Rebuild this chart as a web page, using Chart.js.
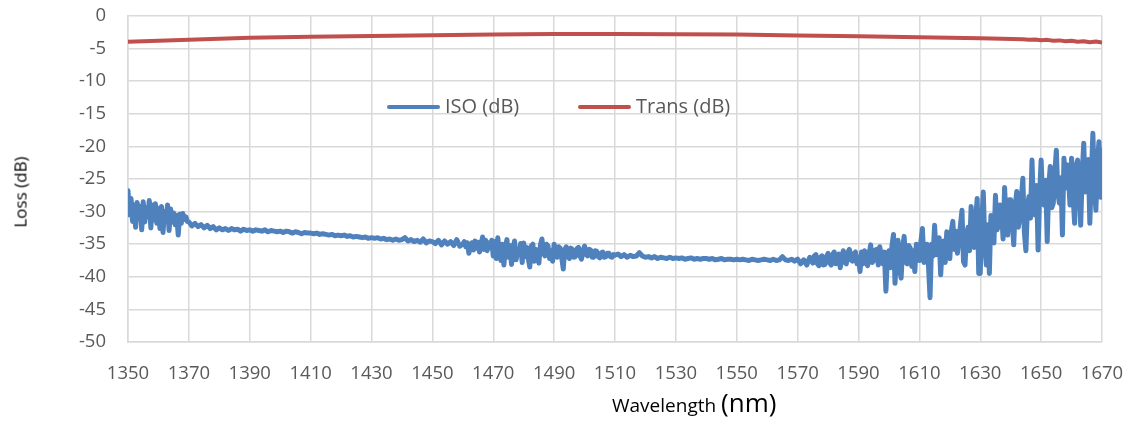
<!DOCTYPE html>
<html>
<head>
<meta charset="utf-8">
<script src="https://cdn.jsdelivr.net/npm/chart.js@4"></script>
<style>
  html, body { margin: 0; padding: 0; background: #fff; }
  #wrap { position: relative; width: 1131px; height: 424px; font-family: "Open Sans", sans-serif; }
  #chart { position: absolute; left: 0; top: 0; }
  .leg { position: absolute; top: 92px; font-size: 20px; color: #595959; white-space: nowrap; }
  .leg i { display: inline-block; width: 53px; height: 4px; border-radius: 2px; vertical-align: middle; margin-right: 5px; position: relative; top: -1px; }
  #xtitle { position: absolute; left: 612px; top: 384px; color: #000; white-space: nowrap; }
  #xtitle .a { font-size: 19px; }
  #xtitle .b { font-size: 26px; }
  #ytitle { position: absolute; left: 20px; top: 192px; font-size: 17px; color: #000; white-space: nowrap;
            transform: translate(-50%, -50%) rotate(-90deg); }
</style>
</head>
<body>
<div id="wrap">
  <canvas id="chart" width="1131" height="424"></canvas>
  <div class="leg" style="left:387px"><i style="background:#4F81BD"></i>ISO (dB)</div>
  <div class="leg" style="left:578px"><i style="background:#C0504D"></i>Trans (dB)</div>
  <div id="xtitle"><span class="a">Wavelength </span><span class="b">(nm)</span></div>
  <div id="ytitle">Loss (dB)</div>
</div>
<script>
// 軸の目盛り
const xTicks = [1350, 1370, 1390, 1410, 1430, 1450, 1470, 1490, 1510, 1530, 1550, 1570, 1590, 1610, 1630, 1650, 1670];
const yTicks = [0, -5, -10, -15, -20, -25, -30, -35, -40, -45, -50];

// ISO (dB) — 区間ごとに読み取り (ノイズの多い区間は 0.5 nm ごと)
// 1350–1370 nm, 0.5 nm
const iso1350 = [
  -26.8,-30.5,-28.0,-31.5,-29.0,-32.4,-28.6,-31.0,-29.2,-32.8,
  -28.5,-31.6,-29.4,-30.8,-28.3,-32.5,-29.0,-31.3,-28.8,-31.8,
  -29.5,-32.6,-29.2,-33.2,-30.0,-31.4,-29.0,-32.9,-29.6,-31.6,
  -30.2,-32.0,-30.6,-33.6,-30.4,-31.8,-30.3,-31.2,-30.8,-31.5,
  -31.6
];
// 1371–1459 nm, 1 nm
const iso1371 = [
  -32.2,-31.8,-32.3,-32.0,-32.5,-32.1,-32.6,-32.3,-32.8,
  -32.5,-32.8,-32.6,-32.9,-32.6,-32.8,-32.7,-33.0,-32.7,-32.9,
  -32.8,-33.0,-32.8,-32.9,-33.0,-32.8,-33.1,-32.9,-33.0,-33.1,
  -33.0,-33.2,-33.0,-33.1,-33.3,-33.1,-33.2,-33.4,-33.2,-33.3,
  -33.3,-33.4,-33.3,-33.5,-33.4,-33.5,-33.6,-33.5,-33.7,-33.6,
  -33.7,-33.6,-33.8,-33.7,-33.9,-33.8,-33.9,-34.0,-33.9,-34.1,
  -34.0,-34.1,-34.0,-34.2,-34.1,-34.3,-34.2,-34.4,-34.2,-34.4,
  -34.3,-34.0,-34.5,-34.3,-34.6,-34.4,-34.7,-34.2,-34.8,-34.5,
  -34.6,-34.9,-34.4,-35.1,-34.5,-35.0,-34.6,-35.2,-34.3,-35.3
];
// 1460–1510 nm, 0.5 nm
const iso1460 = [
  -35.0,-34.6,-35.4,-34.8,-36.4,-35.2,-34.8,-35.9,-34.5,-35.6,
  -34.7,-36.2,-35.0,-33.9,-35.8,-34.4,-36.0,-34.8,-35.5,-34.4,
  -36.8,-34.6,-37.2,-34.0,-36.5,-37.5,-35.0,-38.2,-35.4,-34.3,
  -37.0,-35.2,-38.1,-35.6,-34.5,-37.4,-36.0,-36.5,-34.9,-37.8,
  -34.8,-36.9,-35.5,-37.2,-38.5,-35.3,-35.0,-37.6,-35.8,-36.6,
  -37.9,-35.1,-34.2,-36.4,-36.8,-35.0,-35.3,-37.2,-36.0,-37.6,
  -35.0,-36.6,-37.0,-35.4,-35.6,-37.1,-38.8,-35.8,-35.4,-36.9,
  -37.2,-35.6,-35.8,-37.0,-36.9,-35.7,-35.5,-36.8,-37.3,-35.9,
  -35.3,-36.6,-36.8,-35.8,-35.9,-37.0,-37.0,-36.0,-36.1,-36.9,
  -37.1,-36.3,-36.2,-37.0,-36.9,-36.4,-36.4,-36.9,-37.0,-36.6,
  -36.7
];
// 1511–1574 nm, 1 nm
const iso1511 = [
  -36.5,-36.9,-36.6,-37.0,-36.7,-36.9,-36.8,-36.3,-36.8,
  -37.0,-36.9,-37.1,-36.9,-37.2,-37.0,-37.1,-37.2,-37.0,-37.2,
  -37.1,-37.2,-37.1,-37.3,-37.2,-37.1,-37.3,-37.2,-37.3,-37.2,
  -37.2,-37.3,-37.2,-37.4,-37.3,-37.2,-37.4,-37.3,-37.3,-37.4,
  -37.3,-37.4,-37.3,-37.4,-37.5,-37.3,-37.4,-37.5,-37.4,-37.3,
  -37.4,-37.5,-37.3,-37.5,-37.4,-36.9,-37.4,-37.5,-37.3,-37.6,
  -37.3,-38.0,-37.4,-38.2,-37.0
];
// 1575–1670 nm, 0.5 nm
const iso1575 = [
  -37.9,-36.8,-36.6,-38.0,-38.3,-37.0,-36.8,-38.2,-38.1,-36.9,
  -36.4,-37.8,-38.2,-36.6,-36.2,-38.0,-37.9,-36.5,-38.6,-37.2,
  -36.0,-37.8,-38.0,-36.3,-35.8,-37.4,-37.6,-36.4,-36.2,-38.0,
  -37.0,-39.2,-36.2,-38.0,-36.0,-37.6,-38.3,-36.4,-35.1,-37.8,
  -37.5,-35.9,-35.8,-38.2,-35.4,-36.8,-38.0,-36.2,-42.2,-37.0,
  -36.0,-38.6,-35.2,-33.5,-41.0,-36.4,-34.4,-38.8,-40.2,-35.6,
  -33.8,-37.8,-38.0,-35.2,-35.6,-38.4,-36.0,-39.2,-35.0,-37.4,
  -37.5,-34.6,-32.6,-37.8,-36.5,-35.0,-38.4,-43.2,-35.0,-36.8,
  -32.1,-36.6,-35.6,-34.0,-39.7,-35.6,-34.5,-37.8,-33.1,-36.4,
  -37.2,-33.0,-31.5,-35.8,-33.0,-36.4,-34.4,-32.0,-29.8,-37.7,
  -38.2,-33.6,-32.4,-36.0,-29.2,-34.8,-35.5,-31.0,-28.0,-39.5,
  -39.5,-31.5,-27.0,-35.0,-38.2,-32.0,-39.5,-30.6,-31.0,-34.8,
  -27.5,-32.8,-32.1,-29.0,-30.0,-34.2,-26.3,-31.5,-33.6,-28.2,
  -28.2,-31.6,-35.1,-29.0,-26.9,-32.4,-31.0,-28.0,-24.9,-33.2,
  -36.0,-29.4,-27.7,-31.0,-22.1,-29.6,-30.5,-26.0,-35.9,-27.4,
  -22.1,-28.0,-29.0,-25.2,-34.6,-26.0,-23.1,-29.4,-28.7,-24.0,
  -20.6,-27.2,-28.7,-24.8,-33.6,-21.8,-26.4,-22.8,-25.0,-29.0,
  -21.8,-27.6,-31.8,-23.0,-22.1,-26.4,-32.1,-24.2,-19.5,-27.0,
  -25.4,-22.0,-31.8,-24.6,-18.0,-26.2,-29.8,-22.4,-19.3,-27.8,
  -20.6
];

// Trans (dB)
const transNm = [1350, 1370, 1390, 1410, 1430, 1450, 1470, 1490, 1510, 1530, 1550, 1570, 1590, 1610, 1630, 1644, 1646, 1648, 1650, 1652, 1654, 1656, 1658, 1660, 1662, 1664, 1666, 1668, 1670];
const transLoss = [-3.95, -3.65, -3.35, -3.2, -3.05, -2.95, -2.85, -2.75, -2.75, -2.8, -2.85, -3.0, -3.1, -3.25, -3.4, -3.55, -3.65, -3.6, -3.72, -3.66, -3.8, -3.74, -3.86, -3.8, -3.94, -3.86, -4.02, -3.92, -4.05];

// 区間 (開始波長, 間隔) から点を作る
function segPoints(values, startNm, stepNm) {
  return values.map(function (v, i) { return { x: startNm + i * stepNm, y: v }; });
}
const isoPoints = [].concat(
  segPoints(iso1350, 1350, 0.5),
  segPoints(iso1371, 1371, 1),
  segPoints(iso1460, 1460, 0.5),
  segPoints(iso1511, 1511, 1),
  segPoints(iso1575, 1575, 0.5)
);
const transPoints = transNm.map(function (x, i) { return { x: x, y: transLoss[i] }; });

const tickFont = { family: "'Open Sans', sans-serif", size: 18.5 };
const gridColor = '#d9d9d9';

new Chart(document.getElementById('chart').getContext('2d'), {
  type: 'line',
  data: {
    datasets: [
      {
        label: 'ISO (dB)',
        data: isoPoints,
        borderColor: '#4F81BD',
        borderWidth: 5,
        pointRadius: 0,
        borderJoinStyle: 'round',
        borderCapStyle: 'round',
        tension: 0
      },
      {
        label: 'Trans (dB)',
        data: transPoints,
        borderColor: '#C0504D',
        borderWidth: 4,
        pointRadius: 0,
        borderJoinStyle: 'round',
        borderCapStyle: 'round',
        tension: 0
      }
    ]
  },
  options: {
    responsive: false,
    animation: false,
    layout: { padding: { top: 0, right: 29, left: 0, bottom: 0 } },
    plugins: { legend: { display: false }, tooltip: { enabled: false } },
    scales: {
      x: {
        type: 'linear',
        min: xTicks[0],
        max: xTicks[xTicks.length - 1],
        afterBuildTicks: function (scale) { scale.ticks = xTicks.map(function (v) { return { value: v }; }); },
        afterFit: function (scale) { scale.height = 82; scale.paddingLeft = 0; scale.paddingRight = 0; },
        ticks: { font: tickFont, color: '#595959', padding: 21, maxRotation: 0, autoSkip: false,
                 callback: function (v) { return String(v); } },
        grid: { color: gridColor, lineWidth: 1.5, drawTicks: false },
        border: { color: gridColor, width: 1.5 }
      },
      y: {
        min: yTicks[yTicks.length - 1],
        max: yTicks[0],
        afterBuildTicks: function (scale) { scale.ticks = yTicks.slice().reverse().map(function (v) { return { value: v }; }); },
        afterFit: function (scale) { scale.width = 128; scale.paddingTop = 16; scale.paddingBottom = 0; },
        ticks: { font: tickFont, color: '#595959', padding: 22 },
        grid: { color: gridColor, lineWidth: 1.5, drawTicks: false },
        border: { color: gridColor, width: 1.5 }
      }
    }
  }
});
</script>
</body>
</html>
